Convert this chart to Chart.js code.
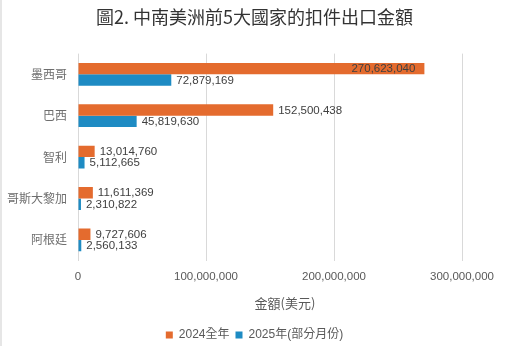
<!DOCTYPE html>
<html>
<head>
<meta charset="utf-8">
<script src="https://cdn.jsdelivr.net/npm/chart.js@4.4.1/dist/chart.umd.min.js"></script>
<style>
html,body{margin:0;padding:0;background:#fff;}
#wrap{position:relative;width:509px;height:346px;}
#wrap:before{content:"";position:absolute;left:0;top:0;bottom:0;width:2px;background:#e6e6e6;}
</style>
</head>
<body>
<div id="wrap"><canvas id="c" width="509" height="346"></canvas></div>
<script>
const categories = ['墨西哥', '巴西', '智利', '哥斯大黎加', '阿根廷'];
const series2024 = [270623040, 152500438, 13014760, 11611369, 9727606];
const series2025 = [72879169, 45819630, 5112665, 2310822, 2560133];
const seriesNames = ['2024全年', '2025年(部分月份)'];
const xTicks = [0, 100000000, 200000000, 300000000];
const chartTitle = '圖2. 中南美洲前5大國家的扣件出口金額';
const axisTitle = '金額(美元)';

const FONT = "'Liberation Sans', 'Noto Sans CJK TC', sans-serif";
const CJK = "'Noto Sans CJK TC', sans-serif";
const fmt = v => v.toLocaleString('en-US');

const labelPlugin = {
  id: 'barLabels',
  afterLayout(chart) {
    // centre the legend and title on the whole canvas like the reference
    [chart.legend, chart.titleBlock].forEach(b => {
      if (b) {
        const w = b.right - b.left;
        b.left = (chart.width - w) / 2;
        b.right = b.left + w;
      }
    });
  },
  afterDatasetsDraw(chart) {
    const ctx = chart.ctx;
    const area = chart.chartArea;
    ctx.save();
    ctx.font = "11.5px " + FONT;
    ctx.textBaseline = 'middle';
    chart.data.datasets.forEach((ds, i) => {
      const meta = chart.getDatasetMeta(i);
      meta.data.forEach((bar, j) => {
        const txt = fmt(ds.data[j]);
        const w = ctx.measureText(txt).width;
        ctx.fillStyle = '#404040';
        if (bar.x + 5 + w > area.right) {
          ctx.textAlign = 'right';
          ctx.fillText(txt, bar.x - 9, bar.y + 0.5);
        } else {
          ctx.textAlign = 'left';
          ctx.fillText(txt, bar.x + 5, bar.y + 0.5);
        }
      });
    });
    ctx.font = "13px " + CJK;
    ctx.fillStyle = '#595959';
    ctx.textAlign = 'center';
    ctx.fillText(axisTitle, 285, 303);
    ctx.restore();
  }
};

new Chart(document.getElementById('c'), {
  type: 'bar',
  data: {
    labels: categories,
    datasets: [
      { label: seriesNames[0], data: series2024, backgroundColor: '#E46B2E', categoryPercentage: 0.55, barPercentage: 1.0 },
      { label: seriesNames[1], data: series2025, backgroundColor: '#1E8BC3', categoryPercentage: 0.55, barPercentage: 1.0 }
    ]
  },
  options: {
    indexAxis: 'y',
    responsive: false,
    animation: false,
    layout: { padding: { left: -4, right: 47, top: 0, bottom: -5 } },
    scales: {
      x: {
        min: 0, max: 300000000,
        afterBuildTicks: s => { s.ticks = xTicks.map(v => ({ value: v })); },
        ticks: { callback: v => fmt(v), color: '#595959', font: { family: FONT, size: 11.5 }, padding: 9, maxRotation: 0 },
        grid: { color: '#d9d9d9', drawTicks: false },
        border: { display: false },
        title: { display: true, text: axisTitle, color: 'rgba(0,0,0,0)', font: { family: CJK, size: 13 }, padding: { top: 6, bottom: 9 } }
      },
      y: {
        ticks: { color: '#6e6e6e', font: { family: CJK, size: 12 }, padding: 11 },
        grid: { display: false, drawTicks: false },
        border: { display: false }
      }
    },
    plugins: {
      title: { display: true, text: chartTitle, color: '#333333', font: { family: CJK, size: 18, weight: 'normal' }, padding: { top: 6, bottom: 26 } },
      legend: {
        position: 'bottom',
        labels: { boxWidth: 7, boxHeight: 7, color: '#595959', font: { family: FONT, size: 12 }, padding: 6 }
      },
      tooltip: { enabled: false }
    }
  },
  plugins: [labelPlugin]
});
</script>
</body>
</html>
